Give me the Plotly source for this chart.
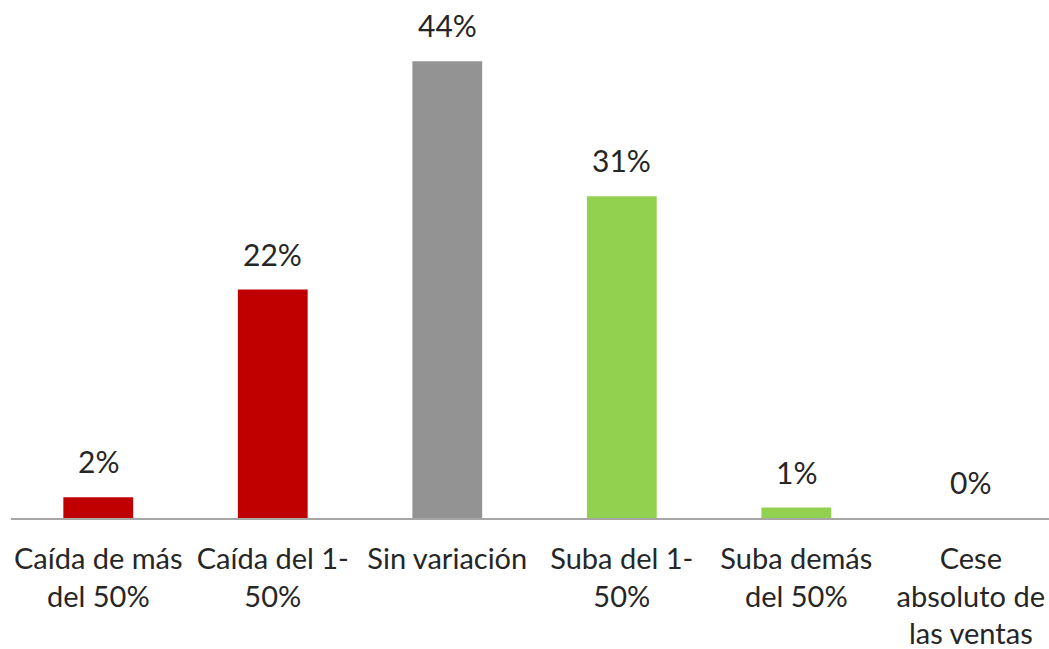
import plotly.graph_objects as go

categories = [
    "Caída de más<br>del 50%",
    "Caída del 1-<br>50%",
    "Sin variación",
    "Suba del 1-<br>50%",
    "Suba demás<br>del 50%",
    "Cese<br>absoluto de<br>las ventas",
]
values = [2, 22, 44, 31, 1, 0]
colors = ["#C00000", "#C00000", "#939393", "#92D050", "#92D050", "#92D050"]

FONT = "Lato"
TEXT_COLOR = "#262626"

fig = go.Figure(
    go.Bar(
        x=categories,
        y=values,
        marker=dict(color=colors, line=dict(width=0)),
        hoverinfo="skip",
    )
)

for cat, val in zip(categories, values):
    fig.add_annotation(
        x=cat,
        y=val,
        text=f"{val}%",
        showarrow=False,
        yanchor="bottom",
        yshift=16,
        font=dict(family=FONT, size=30, color=TEXT_COLOR),
    )

fig.update_layout(
    width=1049,
    height=649,
    margin=dict(l=11, r=0, t=0, b=131),
    paper_bgcolor="white",
    plot_bgcolor="white",
    bargap=0.6,
    showlegend=False,
    font=dict(family=FONT, size=29, color=TEXT_COLOR),
)
fig.update_xaxes(
    range=[-0.5, 5.448],
    showline=True,
    linecolor="#A6A6A6",
    linewidth=2,
    ticks="",
    showgrid=False,
    ticklabelstandoff=14,
    tickfont=dict(family=FONT, size=29, color=TEXT_COLOR),
)
fig.update_yaxes(
    range=[0, 49.9],
    visible=False,
    showgrid=False,
    zeroline=False,
)

fig.write_html("out.html")
